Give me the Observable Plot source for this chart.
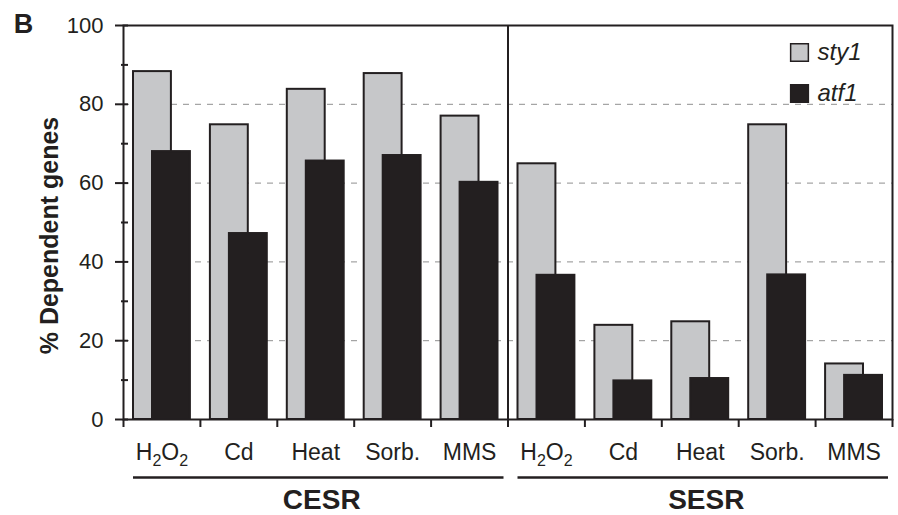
<!DOCTYPE html>
<html>
<head>
<meta charset="utf-8">
<script src="https://cdn.jsdelivr.net/npm/d3@7"></script>
<script src="https://cdn.jsdelivr.net/npm/@observablehq/plot@0.6"></script>
<style>
  html, body { margin: 0; padding: 0; background: #fff; }
</style>
</head>
<body>
<div id="chart"></div>
<script>
// ---- data ----
const categories = ["H2O2", "Cd", "Heat", "Sorb.", "MMS"];
const groups = ["CESR", "SESR"];
const sty1CESR = [88.3, 74.8, 83.8, 87.8, 77.0];
const atf1CESR = [68.0, 47.2, 65.6, 67.0, 60.2];
const sty1SESR = [64.9, 23.9, 24.8, 74.8, 14.1];
const atf1SESR = [36.6, 9.8, 10.4, 36.7, 11.2];
const genes = ["sty1", "atf1"];
const yMajorTicks = [0, 20, 40, 60, 80, 100];
const yMinorTicks = [10, 30, 50, 70, 90];
const gridValues = [20, 40, 60, 80];
const yLabel = "% Dependent genes";
const panelLabel = "B";

const series = {
  sty1: {CESR: sty1CESR, SESR: sty1SESR},
  atf1: {CESR: atf1CESR, SESR: atf1SESR}
};
const rows = [];
groups.forEach((g, gi) => {
  categories.forEach((c, ci) => {
    genes.forEach(gene => {
      rows.push({i: gi * categories.length + ci, group: g, category: c, gene, value: series[gene][g][ci]});
    });
  });
});
const nBands = groups.length * categories.length;
const bandTicks = d3.range(nBands + 1);

const ink = "#231f20";
const grey = "#c6c7c9";

const chart = Plot.plot({
  width: 898,
  height: 515,
  marginLeft: 123,
  marginRight: 6,
  marginTop: 25,
  marginBottom: 96,
  x: {domain: [0, nBands], axis: null},
  y: {domain: [0, 100], axis: null},
  style: {fontFamily: "'Liberation Sans', Arial, sans-serif", color: ink, background: "white", overflow: "visible"},
  marks: [
    Plot.ruleY(gridValues, {stroke: "#8f8f8f", strokeDasharray: "6,6", strokeWidth: 1}),
    Plot.rectY(rows.filter(d => d.gene === "sty1"), {
      x1: d => d.i, x2: d => d.i + 1, y1: () => 0, y2: "value",
      insetLeft: 10, insetRight: 29, fill: grey, stroke: ink, strokeWidth: 2
    }),
    Plot.rectY(rows.filter(d => d.gene === "atf1"), {
      x1: d => d.i, x2: d => d.i + 1, y1: () => 0, y2: "value",
      insetLeft: 29, insetRight: 10, fill: ink, stroke: ink, strokeWidth: 2
    }),
    Plot.ruleX([categories.length], {stroke: ink, strokeWidth: 2}),
    Plot.frame({stroke: ink, strokeWidth: 2}),
    // y axis ticks (crossing the axis line)
    Plot.axisY(yMajorTicks, {tickSize: 13, dx: 5, tickFormat: () => "", label: null, strokeWidth: 2}),
    Plot.axisY(yMinorTicks, {tickSize: 7, dx: 5, tickFormat: () => "", label: null, strokeWidth: 2}),
    Plot.axisY(yMajorTicks, {tickSize: 0, tickPadding: 20, label: null, fontSize: 22}),
    // x axis ticks at band boundaries
    Plot.axisX(bandTicks, {tickSize: 8, tickFormat: () => "", label: null, strokeWidth: 2}),
    // category labels
    Plot.text(rows.filter(d => d.gene === "sty1"), {
      x: d => d.i + 0.5, text: "category", frameAnchor: "bottom", lineAnchor: "middle",
      dy: 33, fontSize: 23, className: "cat-label"
    }),
    // group underlines and labels
    Plot.ruleY(groups, {
      x1: (d, i) => i * categories.length, x2: (d, i) => (i + 1) * categories.length, y: () => 0,
      dy: 58, insetLeft: 10, insetRight: 4, stroke: ink, strokeWidth: 2.5
    }),
    Plot.text(groups, {
      x: (d, i) => i * categories.length + categories.length / 2, text: d => d,
      frameAnchor: "bottom", lineAnchor: "middle", dy: 81, dx: 6, fontSize: 28, fontWeight: "bold"
    }),
    // y label
    Plot.text([yLabel], {frameAnchor: "left", textAnchor: "middle", lineAnchor: "middle", rotate: -90, dx: -74, dy: 13, fontSize: 25, fontWeight: "bold"}),
    // panel label
    Plot.text([panelLabel], {frameAnchor: "top-left", textAnchor: "middle", lineAnchor: "middle", dx: -100, dy: -1, fontSize: 27, fontWeight: "bold"}),
    // legend
    Plot.dot([genes[0]], {frameAnchor: "top-right", dx: -93, dy: 27, symbol: "square", r: 10, fill: grey, stroke: ink, strokeWidth: 1.5}),
    Plot.dot([genes[1]], {frameAnchor: "top-right", dx: -93, dy: 68, symbol: "square", r: 10, fill: ink, stroke: ink, strokeWidth: 1.5}),
    Plot.text([genes[0]], {frameAnchor: "top-right", dx: -75, dy: 27, textAnchor: "start", lineAnchor: "middle", fontStyle: "italic", fontSize: 24}),
    Plot.text([genes[1]], {frameAnchor: "top-right", dx: -75, dy: 68, textAnchor: "start", lineAnchor: "middle", fontStyle: "italic", fontSize: 24})
  ]
});

document.getElementById("chart").appendChild(chart);

// render "H2O2" with subscripts
d3.select(chart).selectAll(".cat-label text").each(function() {
  const t = d3.select(this);
  if (t.text() === "H2O2") {
    t.text(null);
    t.append("tspan").text("H");
    t.append("tspan").attr("dy", 6).attr("font-size", 16).text("2");
    t.append("tspan").attr("dy", -6).text("O");
    t.append("tspan").attr("dy", 6).attr("font-size", 16).text("2");
  }
});
</script>
</body>
</html>
